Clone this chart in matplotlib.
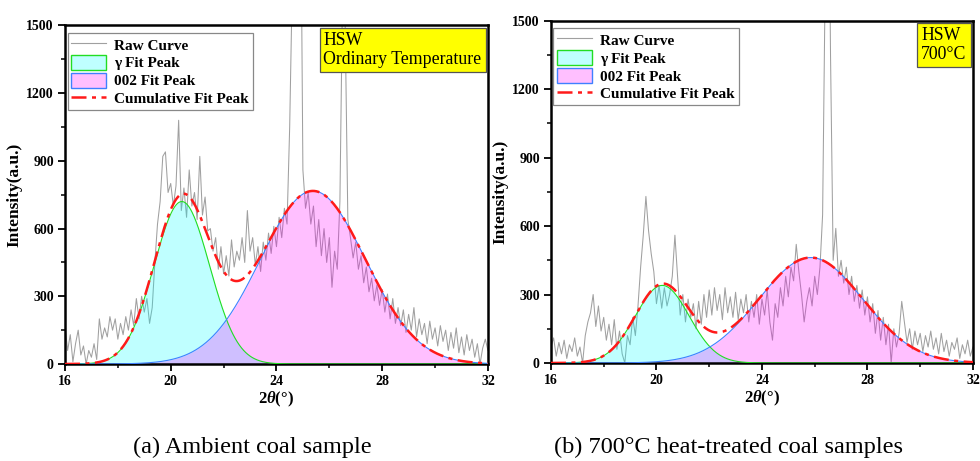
import numpy as np
import matplotlib
matplotlib.use("Agg")
import matplotlib.pyplot as plt
from matplotlib.lines import Line2D
from matplotlib.patches import Patch
from matplotlib.ticker import MultipleLocator

plt.rcParams['font.family'] = ['Liberation Serif', 'DejaVu Serif']
plt.rcParams['mathtext.fontset'] = 'custom'
plt.rcParams['mathtext.it'] = 'Liberation Serif:italic:bold'
plt.rcParams['mathtext.rm'] = 'Liberation Serif:bold'

# ---------------- data ----------------
x_start, x_step = 16.0, 0.1

raw_a = [170, 60, 130, 10, 90, 150, 40, 80, 0, 60,
         30, 90, 20, 200, 110, 160, 120, 210, 150, 200,
         110, 180, 130, 210, 150, 240, 170, 290, 200, 300,
         230, 290, 180, 250, 450, 620, 720, 920, 940, 760,
         800, 700, 790, 1080, 680, 780, 650, 860, 700, 760,
         640, 920, 660, 740, 590, 600, 500, 560, 420, 520,
         400, 480, 390, 550, 430, 500, 460, 560, 450, 680,
         500, 560, 440, 520, 410, 540, 460, 580, 490, 610,
         520, 650, 560, 690, 620, 1050, 1700, 3200, 3500, 2400,
         860, 690, 760, 620, 700, 520, 640, 480, 600, 450,
         560, 340, 500, 420, 720, 1650, 1500, 640, 560, 470,
         540, 420, 480, 360, 430, 320, 380, 280, 350, 260,
         330, 230, 310, 200, 290, 180, 250, 170, 240, 140,
         220, 150, 250, 120, 200, 130, 180, 90, 190, 110,
         160, 80, 170, 100, 150, 60, 140, 70, 160, 50,
         120, 40, 130, 60, 110, 30, 90, 0, 70, 110,
         60]

raw_b = [70, 110, 30, 90, 40, 100, 20, 80, 50, 110,
         30, 70, 0, 120, 180, 220, 300, 160, 250, 140,
         200, 100, 170, 80, 190, 60, 140, 40, 0, 120,
         80, 200, 120, 250, 420, 560, 730, 580, 480, 400,
         260, 340, 240, 330, 250, 300, 380, 560, 380, 210,
         300, 180, 280, 200, 260, 150, 270, 170, 300, 200,
         320, 210, 330, 230, 300, 190, 330, 220, 290, 200,
         310, 190, 280, 220, 300, 180, 270, 200, 300, 170,
         280, 210, 320, 180, 100, 260, 200, 330, 250, 380,
         290, 420, 360, 520, 400, 300, 180, 270, 330, 250,
         380, 300, 420, 650, 1700, 2600, 1350, 450, 590, 380,
         450, 350, 420, 300, 380, 270, 340, 240, 320, 210,
         290, 180, 260, 130, 230, 100, 200, 80, 170, 0,
         150, 70, 130, 270, 180, 90, 150, 60, 140, 80,
         130, 50, 120, 70, 140, 60, 110, 40, 130, 50,
         100, 30, 90, 60, 110, 20, 80, 40, 100, 30,
         70]

# Gaussian fit peaks: (centre 2theta, height, sigma)
gamma_a = (20.42, 720, 1.05)
p002_a = (25.38, 767, 1.98)
gamma_b = (20.22, 340, 1.02)
p002_b = (25.85, 462, 1.97)

box_texts = ["HSW\nOrdinary Temperature", "HSW\n700°C"]
captions = ["(a) Ambient coal sample", "(b) 700°C heat-treated coal samples"]
legend_labels = ["Raw Curve", "γ Fit Peak", "002 Fit Peak", "Cumulative Fit Peak"]
xticks = [16, 20, 24, 28, 32]
yticks = [0, 300, 600, 900, 1200, 1500]

# ---------------- styles ----------------
raw_color = '#a0a0a0'
gamma_edge = '#22dd22'
p002_edge = '#3f80ff'
cum_color = '#ff1a1a'
dashdot = (0, (6, 2.2, 1.6, 2.2))


def gauss(x, c, h, s):
    return h * np.exp(-(x - c) ** 2 / (2 * s ** 2))


fig = plt.figure(figsize=(9.8, 4.61), dpi=100)
ax_a = fig.add_axes([0.0663, 0.2104, 0.4316, 0.7343])
ax_b = fig.add_axes([0.5622, 0.2126, 0.4306, 0.7425])

xf = np.linspace(16, 32, 600)

for ax, raw, g, p, btxt in [(ax_a, raw_a, gamma_a, p002_a, box_texts[0]),
                           (ax_b, raw_b, gamma_b, p002_b, box_texts[1])]:
    xr = x_start + x_step * np.arange(len(raw))
    ax.plot(xr, raw, color=raw_color, lw=0.75, zorder=1)
    yg = gauss(xf, *g)
    yp = gauss(xf, *p)
    ax.fill_between(xf, 0, yg, color=(0, 1, 1), alpha=0.25, lw=0, zorder=2)
    ax.fill_between(xf, 0, yp, color=(1, 0, 1), alpha=0.25, lw=0, zorder=2)
    ax.plot(xf, yg, color=gamma_edge, lw=0.8, zorder=3)
    ax.plot(xf, yp, color=p002_edge, lw=0.8, zorder=3)
    ax.plot(xf, yg + yp, color=cum_color, lw=1.8, linestyle=dashdot, zorder=4)

    ax.set_xlim(16, 32)
    ax.set_ylim(0, 1500)
    ax.set_xticks(xticks)
    ax.set_yticks(yticks)
    ax.xaxis.set_minor_locator(MultipleLocator(2))
    ax.yaxis.set_minor_locator(MultipleLocator(150))
    ax.tick_params(which='major', direction='out', length=5, width=1.3,
                   labelsize=10, pad=3)
    ax.tick_params(which='minor', direction='out', length=3, width=1.1)
    for lab in ax.get_xticklabels() + ax.get_yticklabels():
        lab.set_fontweight('bold')
    for sp in ax.spines.values():
        sp.set_linewidth(1.8)

    ax.set_xlabel('2$\\theta$(°)', fontsize=12, fontweight='bold', labelpad=1)
    ax.set_ylabel('Intensity(a.u.)', fontsize=12.5, fontweight='bold', labelpad=3)

    handles = [Line2D([], [], color=raw_color, lw=0.8),
               Patch(facecolor='#bfffff', edgecolor=gamma_edge, lw=1.0),
               Patch(facecolor='#ffbfff', edgecolor=p002_edge, lw=1.0),
               Line2D([], [], color=cum_color, lw=1.8, linestyle=dashdot)]
    leg = ax.legend(handles, legend_labels, loc='upper left',
                    bbox_to_anchor=(0.006, 0.978),
                    prop={'weight': 'bold', 'size': 11},
                    handlelength=2.3, handleheight=1.15, handletextpad=0.5,
                    labelspacing=0.14, borderpad=0.25, borderaxespad=0.0,
                    frameon=True, fancybox=False, edgecolor='#888888',
                    framealpha=1)
    leg.get_frame().set_linewidth(0.9)
    leg.set_zorder(10)

    ax.text(0.985, 0.982, btxt, transform=ax.transAxes, ha='right',
            va='top', fontsize=12.8, multialignment='left', linespacing=1.2,
            bbox=dict(boxstyle='square,pad=0.22', fc='#ffff00', ec='#555555', lw=0.9),
            zorder=11)

fig.text(0.257, 0.03, captions[0], ha='center', va='center', fontsize=17.5)
fig.text(0.743, 0.03, captions[1], ha='center', va='center', fontsize=17.5)

fig.savefig('out.png', dpi=100)
